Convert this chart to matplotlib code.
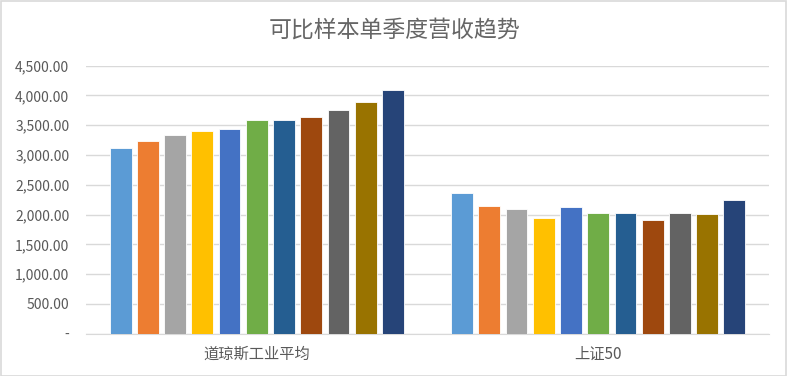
#!/usr/bin/env python3
"""可比样本单季度营收趋势 - grouped bars, 11 quarters per index."""
import matplotlib
matplotlib.use("Agg")
import matplotlib.pyplot as plt
import numpy as np
from matplotlib.patches import Rectangle
from matplotlib.ticker import FuncFormatter

plt.rcParams["font.family"] = ["Noto Sans CJK SC", "DejaVu Sans"]

categories = ["道琼斯工业平均", "上证50"]
# one series per quarter (11 of them), values per category
dow = [3123, 3235, 3330, 3397, 3436, 3581, 3581, 3637, 3760, 3895, 4085]
sz50 = [2355, 2143, 2098, 1942, 2132, 2020, 2020, 1903, 2031, 2009, 2238]

colors = ["#5B9BD5", "#ED7D31", "#A5A5A5", "#FFC000", "#4472C4", "#70AD47",
          "#255E91", "#9E480E", "#636363", "#997300", "#264478"]

fig = plt.figure(figsize=(7.88, 3.76), dpi=100)
fig.patches.append(Rectangle((0.001, 0.001), 0.997, 0.996, transform=fig.transFigure,
                             fill=False, edgecolor="#D9D9D9", linewidth=1.2))
ax = fig.add_axes([86 / 788, 1 - 333.7 / 376, 683 / 788, 268 / 376])

n = len(dow)
slot = 0.0797
w = slot * 0.8
x = np.arange(len(categories))
for i in range(n):
    vals = [dow[i], sz50[i]]
    ax.bar(x + (i - (n - 1) / 2) * slot, vals, w, color=colors[i],
           edgecolor="white", linewidth=0.6, zorder=3)

ax.set_xlim(-0.5, 1.5)
ax.set_ylim(0, 4500)
ax.set_yticks(np.arange(0, 4501, 500))
ax.yaxis.set_major_formatter(FuncFormatter(lambda v, p: "-" if v == 0 else f"{v:,.2f}"))
ax.grid(axis="y", color="#D9D9D9", linewidth=1.0, zorder=0)
ax.set_xticks(x)
ax.set_xticklabels(categories, fontsize=11, color="#595959")
ax.tick_params(axis="y", labelsize=10, labelcolor="#595959", length=0, pad=12)
ax.tick_params(axis="x", length=0, pad=9)
for s in ["top", "right", "left"]:
    ax.spines[s].set_visible(False)
ax.spines["bottom"].set_color("#D9D9D9")

fig.text(394 / 788, 1 - 30 / 376, "可比样本单季度营收趋势", ha="center", va="center",
         fontsize=16.5, color="#666666")

fig.savefig("out.png", dpi=100)
